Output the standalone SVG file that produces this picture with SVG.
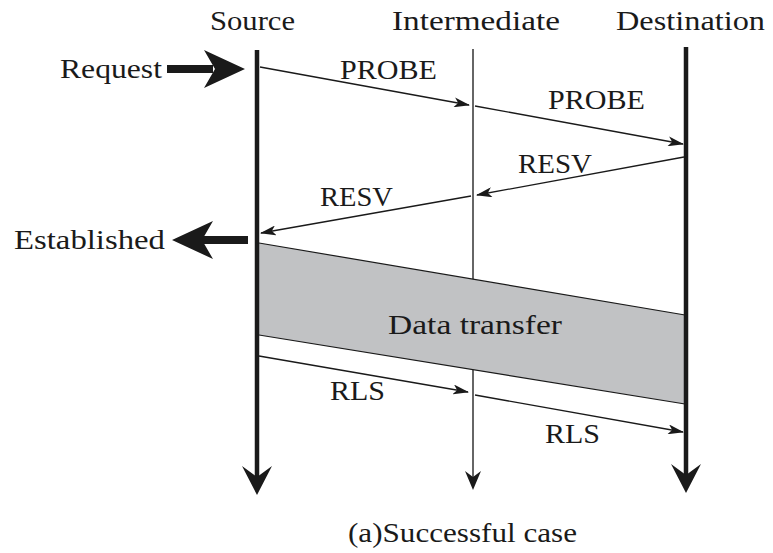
<svg xmlns="http://www.w3.org/2000/svg" width="773" height="553" viewBox="0 0 773 553">
  <style>
    text { font-family: "Liberation Serif", "Times New Roman", serif; font-size: 27px; fill: #1a1a1a; }
    .msg { stroke: #1a1a1a; stroke-width: 1.3; fill: none; marker-end: url(#head); }
    .thick { stroke: #1a1a1a; stroke-width: 4.5; fill: none; }
    .thin { stroke: #333; stroke-width: 1.5; fill: none; }
    .solid { fill: #1a1a1a; stroke: none; }
  </style>
  <defs>
    <marker id="head" viewBox="0 0 16 10" refX="15" refY="5" markerWidth="16" markerHeight="10" markerUnits="userSpaceOnUse" orient="auto">
      <path d="M0,0 L16,5 L0,10 L4,5 Z" fill="#1a1a1a"/>
    </marker>
  </defs>

  <rect width="773" height="553" fill="#ffffff"/>

  <!-- lifelines -->
  <g id="intermediate">
    <text x="392" y="30" textLength="168" lengthAdjust="spacingAndGlyphs">Intermediate</text>
    <line class="thin" x1="473" y1="49" x2="473" y2="480"/>
    <path class="solid" d="M473,490 L465,471 L473,477 L481,471 Z"/>
  </g>

  <!-- data transfer band, laid over the intermediate lifeline -->
  <g id="data-transfer">
    <polygon points="259,243 685,315 685,404 259,335" fill="#c1c2c4"/>
    <line x1="259" y1="243" x2="685" y2="315" stroke="#1a1a1a" stroke-width="1.2"/>
    <line x1="259" y1="335" x2="685" y2="404" stroke="#1a1a1a" stroke-width="1.2"/>
    <text x="388" y="334" textLength="174" lengthAdjust="spacingAndGlyphs">Data transfer</text>
  </g>

  <g id="source">
    <text x="210" y="30" textLength="85" lengthAdjust="spacingAndGlyphs">Source</text>
    <line class="thick" x1="257" y1="50" x2="257" y2="480"/>
    <path class="solid" d="M257,495 L242,466 L257,477 L272,466 Z"/>
  </g>

  <g id="destination">
    <text x="616" y="30" textLength="149" lengthAdjust="spacingAndGlyphs">Destination</text>
    <line class="thick" x1="686" y1="47" x2="686" y2="478"/>
    <path class="solid" d="M686,493 L671,464 L686,475 L701,464 Z"/>
  </g>

  <g id="request">
    <text x="60" y="78" textLength="102" lengthAdjust="spacingAndGlyphs">Request</text>
    <rect class="solid" x="167" y="65" width="46" height="8"/>
    <path class="solid" d="M245,69 L204,50 L215,69 L204,88 Z"/>
  </g>

  <g id="established">
    <text x="14" y="249" textLength="151" lengthAdjust="spacingAndGlyphs">Established</text>
    <rect class="solid" x="202" y="236" width="46" height="8"/>
    <path class="solid" d="M172,240 L213,221 L202,240 L213,259 Z"/>
  </g>

  <!-- messages -->
  <g id="connectors">
    <line class="msg" x1="260" y1="67" x2="469" y2="105"/>
    <line class="msg" x1="475" y1="106" x2="683" y2="144"/>
    <line class="msg" x1="684" y1="157" x2="477" y2="195"/>
    <line class="msg" x1="471" y1="196" x2="261" y2="233"/>
    <line class="msg" x1="259" y1="356" x2="468" y2="392"/>
    <line class="msg" x1="475" y1="395" x2="683" y2="432"/>
    <text x="340" y="79" textLength="97" lengthAdjust="spacingAndGlyphs">PROBE</text>
    <text x="548" y="109" textLength="97" lengthAdjust="spacingAndGlyphs">PROBE</text>
    <text x="518" y="173" textLength="74" lengthAdjust="spacingAndGlyphs">RESV</text>
    <text x="320" y="206" textLength="73" lengthAdjust="spacingAndGlyphs">RESV</text>
    <text x="330" y="400" textLength="55" lengthAdjust="spacingAndGlyphs">RLS</text>
    <text x="545" y="443" textLength="55" lengthAdjust="spacingAndGlyphs">RLS</text>
  </g>

  <text x="348" y="542" textLength="229" lengthAdjust="spacingAndGlyphs">(a)Successful case</text>
</svg>
